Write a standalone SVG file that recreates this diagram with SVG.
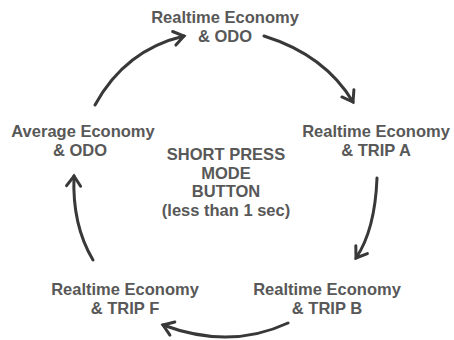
<svg xmlns="http://www.w3.org/2000/svg" width="454" height="340" viewBox="0 0 454 340">
<defs>
<style>
text{font-family:"Liberation Sans",Arial,sans-serif;font-weight:bold;font-size:16.5px;fill:#585858;text-anchor:middle}
.c{fill:none;stroke:#383838;stroke-width:3;stroke-linecap:round;marker-end:url(#ah)}
</style>
<marker id="ah" markerUnits="userSpaceOnUse" viewBox="-14 -10 18 20" refX="0" refY="0" markerWidth="18" markerHeight="20" orient="auto">
<path d="M-10,-7 L0,0 L-10,7" fill="none" stroke="#383838" stroke-width="3" stroke-linecap="round" stroke-linejoin="miter"/>
</marker>
</defs>
<rect width="454" height="340" fill="#ffffff"/>
<g id="connectors">
<path class="c" d="M95,105 Q125,50 184,36"/>
<path class="c" d="M264,36 Q325,55 353,102"/>
<path class="c" d="M377,178 Q375,230 356,258"/>
<path class="c" d="M288,323 Q230,350 163,325"/>
<path class="c" d="M93,260 Q72,225 74,176"/>
</g>
<g id="n-top"><text x="225" y="23">Realtime Economy</text><text x="225" y="42">&amp; ODO</text></g>
<g id="n-right"><text x="376" y="137">Realtime Economy</text><text x="376" y="156">&amp; TRIP A</text></g>
<g id="n-bottom-right"><text x="327" y="295">Realtime Economy</text><text x="327" y="314">&amp; TRIP B</text></g>
<g id="n-bottom-left"><text x="125" y="295">Realtime Economy</text><text x="125" y="314">&amp; TRIP F</text></g>
<g id="n-left"><text x="83" y="137">Average Economy</text><text x="80" y="156">&amp; ODO</text></g>
<g id="center"><text x="226" y="160">SHORT PRESS</text><text x="226" y="178.5">MODE</text><text x="226" y="197">BUTTON</text><text x="226" y="215.5">(less than 1 sec)</text></g>
</svg>
